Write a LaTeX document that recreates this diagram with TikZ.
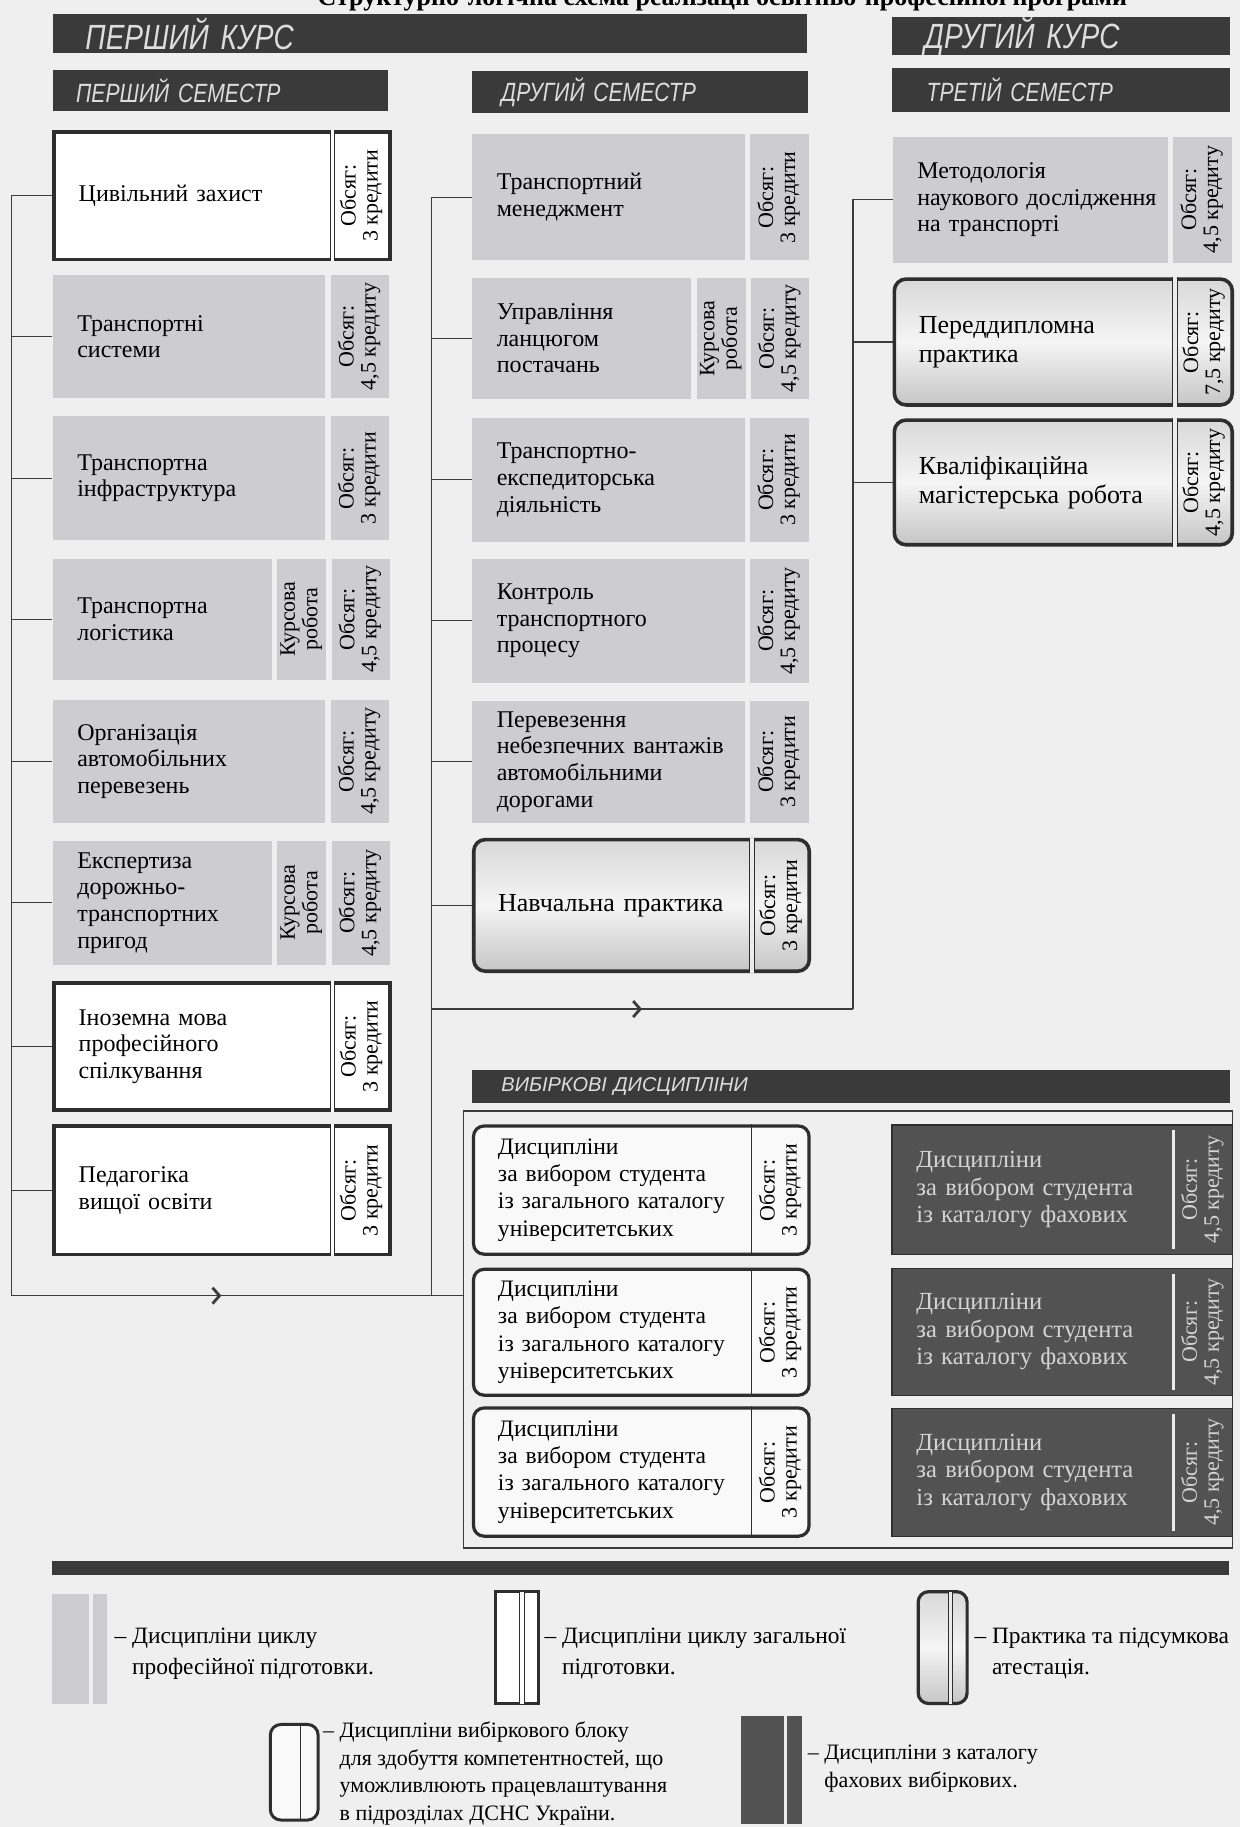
\documentclass[tikz,border=0pt]{standalone}
\usepackage{fontspec}
\setmainfont{Liberation Serif}
\newfontfamily\headfont[FakeStretch=0.8]{Liberation Sans}
\newfontfamily\vibhead{Liberation Sans}
\usetikzlibrary{positioning,arrows.meta,decorations.markings}

\definecolor{paper}{HTML}{EFEFEF}
\definecolor{barfill}{HTML}{3A3A3A}
\definecolor{headtext}{HTML}{DDDDDD}
\definecolor{proffill}{HTML}{CDCDD0}
\definecolor{boxline}{HTML}{2E2E2E}
\definecolor{darkfill}{HTML}{525252}
\definecolor{darktext}{HTML}{D4D4D4}
\definecolor{linkgray}{HTML}{3C3C3C}

% one unit = one pixel of the scan
\newcommand\pxl[1]{(#1)*0.5827pt}
\newcommand\subjfont{\fontsize{12}{13.3}\selectfont}
\newcommand\sidefont{\fontsize{11}{11}\selectfont}
\newcommand\kursfont{\headfont\itshape\fontsize{17.5}{19}\selectfont}
\newcommand\semfont{\headfont\itshape\fontsize{13.2}{14}\selectfont}
\newcommand\vibfont{\vibhead\itshape\fontsize{10}{12}\selectfont}
\newcommand\obs[1]{\rotatebox{90}{\begin{tabular}{@{}c@{}}Обсяг:\\#1\end{tabular}}}
\newcommand\kurs{\rotatebox{90}{\begin{tabular}{@{}c@{}}Курсова\\робота\end{tabular}}}

\tikzset{
  banner/.style={fill=barfill, text=headtext, anchor=north west, align=left, inner ysep=0pt},
  prof/.style={fill=proffill, anchor=north west, align=left, inner xsep=\pxl{21},
    inner ysep=0pt, font=\subjfont},
  profside/.style={fill=proffill, anchor=north west, inner sep=0pt,
    minimum width=\pxl{50}, font=\sidefont},
  side/.style={anchor=east, inner sep=0pt, minimum width=\pxl{50}, font=\sidefont},
  gen/.style={prof, fill=white, draw=boxline, line width=1.8pt},
  pract/.style={prof, draw=boxline, line width=1.8pt, rounded corners=\pxl{10},
    top color=gray!30, bottom color=gray!45, middle color=gray!8,
    font=\fontsize{13}{14.5}\selectfont},
  elect/.style={prof, fill=white!60!paper, draw=boxline, line width=1.6pt,
    rounded corners=\pxl{9}, font=\fontsize{11.8}{13.6}\selectfont},
  fach/.style={prof, fill=darkfill, draw=boxline, line width=0.6pt, text=darktext,
    font=\fontsize{12.3}{13.7}\selectfont},
  dbl/.style={draw=boxline, line width=0.5pt, double=white, double distance=1.6pt},
  link/.style={draw=linkgray, line width=0.6pt},
  midarrow/.style={postaction={decorate, decoration={markings,
    mark=at position 0.5 with {\arrow{Straight Barb[length=3.5pt,width=8pt,line width=1.4pt]}}}}},
  legtext/.style={anchor=west, align=left, inner sep=0pt},
}

% name, x, y, width, height, title, credits
\newcommand\profbox[7]{%
  \node[prof, minimum width=\pxl{#4}, text width=\pxl{#4-42}, minimum height=\pxl{#5}] (#1) at (#2,#3) {#6};
  \node[profside, minimum height=\pxl{#5}, right=2.3pt of #1.north east, anchor=north west] (#1c) {\obs{#7}};}
\newcommand\kursbox[7]{%
  \node[prof, minimum width=\pxl{#4}, text width=\pxl{#4-42}, minimum height=\pxl{#5}] (#1) at (#2,#3) {#6};
  \node[profside, minimum width=\pxl{42}, minimum height=\pxl{#5}, right=2.3pt of #1.north east, anchor=north west] (#1k) {\kurs};
  \node[profside, minimum height=\pxl{#5}, right=2.3pt of #1k.north east, anchor=north west] (#1c) {\obs{#7}};}
% name, x, y, height, title, credits
\newcommand\genbox[6]{%
  \node[gen, minimum width=\pxl{288}, text width=\pxl{246}, minimum height=\pxl{#4}] (#1) at (#2,#3) {#5};
  \node[side] (#1c) at (#1.east) {\obs{#6}};
  \draw[dbl] (#1c.west |- #1.north) -- (#1c.west |- #1.south);}
% name, x, y, width, height, title, credits
\newcommand\practbox[7]{%
  \node[pract, minimum width=\pxl{#4}, text width=\pxl{#4-42}, minimum height=\pxl{#5}] (#1) at (#2,#3) {#6};
  \node[side] (#1c) at (#1.east) {\obs{#7}};
  \draw[dbl, double=gray!15] (#1c.west |- #1.north) -- (#1c.west |- #1.south);}
% name, x, y, height
\newcommand\electbox[4]{%
  \node[elect, minimum width=\pxl{288}, text width=\pxl{246}, minimum height=\pxl{#4}] (#1) at (#2,#3)
    {Дисципліни\\за~вибором~студента\\із~загального~каталогу\\університетських};
  \node[side] (#1c) at (#1.east) {\obs{3 кредити}};
  \draw[boxline, line width=0.5pt] (#1c.west |- #1.north) -- (#1c.west |- #1.south);}
\newcommand\fachbox[4]{%
  \node[fach, minimum width=\pxl{292}, text width=\pxl{250}, minimum height=\pxl{#4}] (#1) at (#2,#3)
    {Дисципліни\\за~вибором~студента\\із~каталогу~фахових};
  \node[side, text=darktext] (#1c) at (#1.east) {\obs{4,5 кредиту}};
  \draw[white!85!gray, line width=1.6pt, shorten <=3pt, shorten >=3pt] (#1c.west |- #1.north) -- (#1c.west |- #1.south);}

\begin{document}
\begin{tikzpicture}[x=0.5827pt, y=-0.5827pt]
\useasboundingbox (0,0) rectangle (1064,1568);
\fill[paper] (0,0) rectangle (1064,1568);

% title, cut by the edge of the scan
\begin{scope}
  \clip (0,0) rectangle (1064,1568);
  \node[anchor=base, font=\bfseries\fontsize{13}{15}\selectfont] (title) at (620,5)
    {Структурно-логічна схема реалізації освітньо-професійної програми};
\end{scope}

% headings
\node[banner, font=\kursfont, minimum width=\pxl{647}, text width=\pxl{591}, inner xsep=\pxl{28}, minimum height=\pxl{33}] (k1) at (45,12) {ПЕРШИЙ КУРС};
\node[banner, font=\kursfont, minimum width=\pxl{290}, text width=\pxl{234}, inner xsep=\pxl{28}, minimum height=\pxl{33}] (k2) at (765,14) {ДРУГИЙ КУРС};
\node[banner, font=\semfont, minimum width=\pxl{288}, text width=\pxl{248}, inner xsep=\pxl{20}, minimum height=\pxl{35}] (s1) at (45,60) {ПЕРШИЙ СЕМЕСТР};
\node[banner, font=\semfont, minimum width=\pxl{288}, text width=\pxl{238}, inner xsep=\pxl{25}, minimum height=\pxl{36}] (s2) at (405,61) {ДРУГИЙ СЕМЕСТР};
\node[banner, font=\semfont, minimum width=\pxl{290}, text width=\pxl{230}, inner xsep=\pxl{30}, minimum height=\pxl{38}] (s3) at (765,58) {ТРЕТІЙ СЕМЕСТР};

% first semester
\genbox{civ}{45}{112}{109}{Цивільний~захист}{3 кредити}
\profbox{tsys}{45}{236}{234}{105}{Транспортні\\системи}{4,5 кредиту}
\profbox{infra}{45}{357}{234}{106}{Транспортна\\інфраструктура}{3 кредити}
\kursbox{log}{45}{479}{188}{104}{Транспортна\\логістика}{4,5 кредиту}
\profbox{org}{45}{600}{234}{106}{Організація\\автомобільних\\перевезень}{4,5 кредиту}
\kursbox{eksp}{45}{721}{188}{107}{Експертиза\\дорожньо-\\транспортних\\пригод}{4,5 кредиту}
\genbox{inoz}{45}{842}{109}{Іноземна~мова\\професійного\\спілкування}{3 кредити}
\genbox{ped}{45}{965}{110}{Педагогіка\\вищої~освіти}{3 кредити}

% second semester
\profbox{man}{405}{115}{234}{108}{Транспортний\\менеджмент}{3 кредити}
\kursbox{upr}{405}{238}{188}{104}{Управління\\ланцюгом\\постачань}{4,5 кредиту}
\profbox{ted}{405}{358}{234}{107}{Транспортно-\\експедиторська\\діяльність}{3 кредити}
\profbox{ktp}{405}{479}{234}{107}{Контроль\\транспортного\\процесу}{4,5 кредиту}
\profbox{pnv}{405}{601}{234}{105}{Перевезення\\небезпечних~вантажів\\автомобільними\\дорогами}{3 кредити}
\practbox{np}{405}{719}{288}{113}{Навчальна~практика}{3 кредити}

% third semester
\profbox{met}{766}{117}{236}{108}{Методологія\\наукового~дослідження\\на~транспорті}{4,5 кредиту}
\practbox{pered}{766}{238}{290}{108}{Переддипломна\\практика}{7,5 кредиту}
\practbox{kval}{766}{359}{290}{107}{Кваліфікаційна\\магістерська~робота}{4,5 кредиту}

% electives
\node[banner, font=\vibfont, minimum width=\pxl{650}, text width=\pxl{600}, inner xsep=\pxl{25}, minimum height=\pxl{28}] (vb) at (405,918) {ВИБІРКОВІ ДИСЦИПЛІНИ};
\node[draw=linkgray, line width=0.6pt, anchor=north west, minimum width=\pxl{660}, minimum height=\pxl{375}, inner sep=0pt] (vframe) at (397,953) {};
\electbox{el1}{405}{965}{110}
\electbox{el2}{405}{1088}{108}
\electbox{el3}{405}{1207}{110}
\fachbox{fa1}{765}{965}{111}
\fachbox{fa2}{765}{1088}{109}
\fachbox{fa3}{765}{1208}{110}

% connectors
\coordinate (b1) at (10,1112);
\coordinate (b2) at (370,1112);
\coordinate (c2) at (370,866);
\coordinate (c3) at (732,866);
\draw[link] (civ.west) -| (b1);
\foreach \n in {tsys,infra,log,org,eksp,inoz,ped} \draw[link] (\n.west) -- (\n.west -| b1);
\draw[link, midarrow] (b1) -- (b2);
\draw[link] (b2) -- (b2 -| vframe.west);
\draw[link] (man.west) -| (b2);
\foreach \n in {upr,ted,ktp,pnv,np} \draw[link] (\n.west) -- (\n.west -| b2);
\draw[link, midarrow] (c2) -- (c3);
\draw[link] (met.west) -| (c3);
\foreach \n in {pered,kval} \draw[link] (\n.west) -- (\n.west -| c3);

% legend
\fill[barfill] (45,1340) rectangle (1055,1352);
\fill[proffill] (45,1368) rectangle (76,1462);
\fill[proffill] (80,1368) rectangle (92,1462);
\draw[boxline, line width=1.6pt, fill=white] (425,1366) rectangle (462,1462);
\draw[dbl] (448,1366) -- (448,1462);
\draw[boxline, line width=1.6pt, rounded corners=\pxl{9}, top color=gray!30, bottom color=gray!45, middle color=gray!8] (788,1366) rectangle (830,1462);
\draw[dbl, double=gray!15] (816,1366) -- (816,1462);
\draw[boxline, line width=1.5pt, rounded corners=\pxl{9}, fill=white!60!paper] (232,1480) rectangle (273,1562);
\draw[boxline, line width=0.5pt] (258,1480) -- (258,1562);
\fill[darkfill] (636,1473) rectangle (688,1565);
\draw[white!85!gray, line width=1.5pt] (674,1473) -- (674,1565);

\node[legtext, font=\fontsize{11.7}{15.5}\selectfont] (lg1) at (98,1419)
  {– Дисципліни циклу\\\phantom{– }професійної підготовки.};
\node[legtext, font=\fontsize{11.7}{15.5}\selectfont] (lg2) at (467,1419)
  {– Дисципліни циклу загальної\\\phantom{– }підготовки.};
\node[legtext, font=\fontsize{11.7}{15.5}\selectfont] (lg3) at (836,1419)
  {– Практика та підсумкова\\\phantom{– }атестація.};
\node[legtext, font=\fontsize{11}{13.8}\selectfont] (lg4) at (277,1522)
  {– Дисципліни вибіркового блоку\\\phantom{– }для здобуття компетентностей, що\\\phantom{– }уможливлюють працевлаштування\\\phantom{– }в підрозділах ДСНС України.};
\node[legtext, font=\fontsize{11}{13.8}\selectfont] (lg5) at (693,1518)
  {– Дисципліни з каталогу\\\phantom{– }фахових вибіркових.};
\end{tikzpicture}
\end{document}
